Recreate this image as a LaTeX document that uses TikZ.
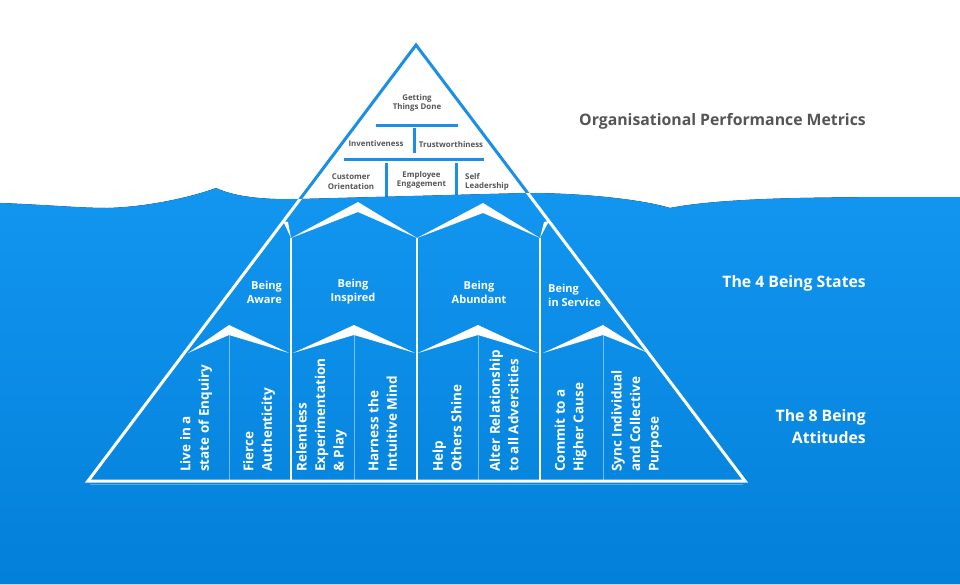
\documentclass[tikz,border=0pt]{standalone}
\usepackage{fontspec}
\setmainfont{Open Sans}
\definecolor{wtop}{HTML}{1296F0}
\definecolor{wbot}{HTML}{0380D9}
\definecolor{lineblue}{HTML}{1A8FE3}
\definecolor{txtgray}{HTML}{555555}
\begin{document}
\begin{tikzpicture}[x=1pt,y=-1pt,
  edge/.style={line width=3pt, line join=miter},
  bar/.style={lineblue, line width=3pt},
  colline/.style={white, line width=1.5pt},
  subline/.style={white, opacity=0.45, line width=1pt},
  chev/.style={fill=white},
  toplbl/.style={text=txtgray, font=\fontsize{7.9}{9.8}\selectfont\bfseries, align=center, inner sep=0pt},
  statelbl/.style={text=white, font=\fontsize{11}{14}\selectfont\bfseries, inner sep=0pt},
  attlbl/.style={text=white, font=\fontsize{13.5}{18.5}\selectfont\bfseries, rotate=90, anchor=west, align=left, inner sep=0pt},
  sidelbl/.style={font=\fontsize{15.8}{22}\selectfont\bfseries, anchor=east, align=right, inner sep=0pt}]
\useasboundingbox (0,0) rectangle (960,584);
\fill[white] (0,0) rectangle (960,584);

% blue pyramid top (above water)
\draw[edge, lineblue] (88,481) -- (416,45) -- (745,481);
\draw[bar] (376,125) -- (458,125);
\draw[bar] (414,128) -- (414,153);
\draw[bar] (344,159) -- (484,159);
\draw[bar] (386,163) -- (386,198);
\draw[bar] (456,163) -- (456,198);

\node[toplbl] (gtd) at (417,103) {Getting\\Things Done};
\node[toplbl] (inv) at (376,144) {Inventiveness};
\node[toplbl] (trw) at (451,145) {Trustworthiness};
\node[toplbl] (cor) at (351,181.5) {Customer\\Orientation};
\node[toplbl] (emp) at (421.5,180) {Employee\\Engagement};
\node[toplbl, align=left, anchor=west] (sel) at (465,182) {Self\\Leadership};

% water
\fill[top color=wtop, bottom color=wbot]
  (0,203) .. controls (50,205) and (80,208) .. (107,208)
  .. controls (150,207) and (195,196) .. (216,188)
  .. controls (235,197) and (265,200) .. (300,199)
  -- (527,193)
  .. controls (580,193) and (640,199) .. (670,208)
  .. controls (700,202) and (750,199) .. (800,198)
  .. controls (850,197) and (900,197) .. (960,197)
  -- (960,584) -- (0,584) -- cycle;

\begin{scope}
\clip
  (0,203) .. controls (50,205) and (80,208) .. (107,208)
  .. controls (150,207) and (195,196) .. (216,188)
  .. controls (235,197) and (265,200) .. (300,199)
  -- (527,193)
  .. controls (580,193) and (640,199) .. (670,208)
  .. controls (700,202) and (750,199) .. (800,198)
  .. controls (850,197) and (900,197) .. (960,197)
  -- (960,584) -- (0,584) -- cycle;
\draw[edge, white] (88,481) -- (416,45) -- (745,481) -- cycle;
\end{scope}
\draw[white, opacity=0.3, line width=1.5pt] (90,484.5) -- (743,484.5);

% column lines
\draw[colline] (291,238) -- (291,481);
\draw[colline] (417,238) -- (417,481);
\draw[colline] (540,238) -- (540,481);
\draw[subline] (229,335) -- (229,480);
\draw[subline] (354,335) -- (354,480);
\draw[subline] (478,335) -- (478,480);
\draw[subline] (603,335) -- (603,480);

% state chevrons
\fill[chev] (291,238) -- (358,202) -- (417,238) -- (358,212) -- cycle;
\fill[chev] (417,238) -- (483,203) -- (540,238) -- (483,213) -- cycle;
\fill[chev] (283,221) -- (288,222) -- (291,238) -- cycle;
\fill[chev] (549,221) -- (544,222) -- (540,238) -- cycle;

% attitude chevrons
\fill[chev] (188,353) -- (229,325) -- (289,353) -- (229,335) -- cycle;
\fill[chev] (293,353) -- (354,325) -- (415,353) -- (354,335) -- cycle;
\fill[chev] (418,353) -- (478,325) -- (538,353) -- (478,335) -- cycle;
\fill[chev] (543,353) -- (603,325) -- (646,352) -- (603,335) -- cycle;

% state labels
\node[statelbl, align=right, anchor=east] (aware) at (282,292) {Being\\Aware};
\node[statelbl, align=center] (insp) at (353,292) {Being\\Inspired};
\node[statelbl, align=center] (abun) at (479,292) {Being\\Abundant};
\node[statelbl, align=left, anchor=west] (serv) at (548,295) {Being\\in Service};

% attitude labels
\node[attlbl] (a1) at (196,472) {Live in a\\state of Enquiry};
\node[attlbl] (a2) at (259,472) {Fierce\\Authenticity};
\node[attlbl] (a3) at (321.5,472) {Relentless\\Experimentation\\\& Play};
\node[attlbl] (a4) at (382.5,472) {Harness the\\Intuitive Mind};
\node[attlbl] (a5) at (447,472) {Help\\Others Shine};
\node[attlbl] (a6) at (504,472) {Alter Relationship\\to all Adversities};
\node[attlbl] (a7) at (570.5,472) {Commit to a\\Higher Cause};
\node[attlbl] (a8) at (636.5,472) {Sync Individual\\and Collective\\Purpose};

% side labels
\node[sidelbl, text=txtgray] (opm) at (866,121) {Organisational Performance Metrics};
\node[sidelbl, text=white] (bs) at (866,283) {The 4 Being States};
\node[sidelbl, text=white] (ba) at (866,427) {The 8 Being\\Attitudes};
\end{tikzpicture}
\end{document}
